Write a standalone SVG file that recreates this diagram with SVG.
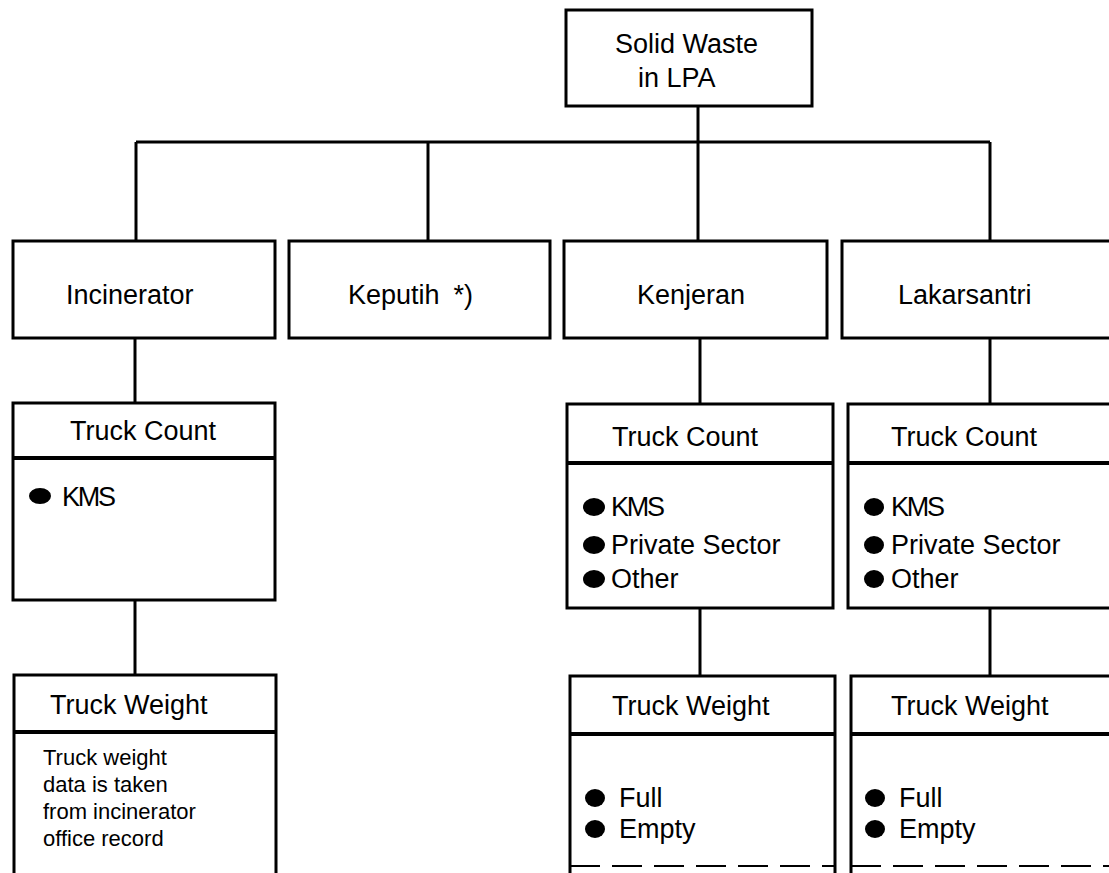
<svg xmlns="http://www.w3.org/2000/svg" width="1109" height="873" viewBox="0 0 1109 873">
<style>
.box{fill:#fff;stroke:#000;stroke-width:3}
.div{stroke:#000;stroke-width:4}
.con{stroke:#000;stroke-width:3;fill:none}
.t{font-family:"Liberation Sans",Arial,sans-serif;font-size:27px;fill:#000}
.s{font-family:"Liberation Sans",Arial,sans-serif;font-size:22px;fill:#000}
.b{fill:#000}
.dash{stroke:#000;stroke-width:2;stroke-dasharray:30 12}
</style>
<g id="connectors">
<line class="con" x1="698" y1="106" x2="698" y2="241"/>
<line class="con" x1="136" y1="142" x2="990" y2="142"/>
<line class="con" x1="136" y1="142" x2="136" y2="241"/>
<line class="con" x1="428" y1="142" x2="428" y2="241"/>
<line class="con" x1="990" y1="142" x2="990" y2="241"/>
<line class="con" x1="135" y1="338" x2="135" y2="403"/>
<line class="con" x1="135" y1="600" x2="135" y2="675"/>
<line class="con" x1="700" y1="338" x2="700" y2="404"/>
<line class="con" x1="700" y1="608" x2="700" y2="676"/>
<line class="con" x1="990" y1="338" x2="990" y2="404"/>
<line class="con" x1="990" y1="608" x2="990" y2="676"/>
</g>
<g id="solid-waste">
<rect class="box" x="566" y="10" width="246" height="96"/>
<text class="t" x="615" y="53">Solid Waste</text>
<text class="t" x="638" y="87">in LPA</text>
</g>
<g id="incinerator">
<rect class="box" x="13" y="241" width="262" height="97"/>
<text class="t" x="66" y="304">Incinerator</text>
</g>
<g id="keputih">
<rect class="box" x="289" y="241" width="261" height="97"/>
<text class="t" x="348" y="304">Keputih<tspan dx="14">*)</tspan></text>
</g>
<g id="kenjeran">
<rect class="box" x="564" y="241" width="263" height="97"/>
<text class="t" x="637" y="304">Kenjeran</text>
</g>
<g id="lakarsantri">
<rect class="box" x="842" y="241" width="280" height="97"/>
<text class="t" x="898" y="304">Lakarsantri</text>
</g>
<g id="inc-truck-count">
<rect class="box" x="13" y="403" width="262" height="197"/>
<line class="div" x1="13" y1="458" x2="275" y2="458"/>
<text class="t" x="70" y="440">Truck Count</text>
<ellipse class="b" cx="40" cy="496" rx="11" ry="8"/>
<text class="t" x="62" y="506" textLength="54">KMS</text>
</g>
<g id="ken-truck-count">
<rect class="box" x="567" y="404" width="266" height="204"/>
<line class="div" x1="567" y1="463" x2="833" y2="463"/>
<text class="t" x="612" y="446">Truck Count</text>
<ellipse class="b" cx="594" cy="507" rx="11" ry="9"/>
<text class="t" x="611" y="516" textLength="54">KMS</text>
<ellipse class="b" cx="594" cy="545" rx="11" ry="9"/>
<text class="t" x="611" y="554">Private Sector</text>
<ellipse class="b" cx="594" cy="579" rx="11" ry="9"/>
<text class="t" x="611" y="588">Other</text>
</g>
<g id="lak-truck-count">
<rect class="box" x="848" y="404" width="280" height="204"/>
<line class="div" x1="848" y1="463" x2="1109" y2="463"/>
<text class="t" x="891" y="446">Truck Count</text>
<ellipse class="b" cx="874" cy="507" rx="10" ry="9"/>
<text class="t" x="891" y="516" textLength="54">KMS</text>
<ellipse class="b" cx="874" cy="545" rx="10" ry="9"/>
<text class="t" x="891" y="554">Private Sector</text>
<ellipse class="b" cx="874" cy="579" rx="10" ry="9"/>
<text class="t" x="891" y="588">Other</text>
</g>
<g id="inc-truck-weight">
<path class="box" d="M14 880 V675 H276 V880"/>
<line class="div" x1="14" y1="732" x2="276" y2="732"/>
<text class="t" x="50" y="714">Truck Weight</text>
<text class="s" x="43" y="765">Truck weight</text>
<text class="s" x="43" y="792">data is taken</text>
<text class="s" x="43" y="819">from incinerator</text>
<text class="s" x="43" y="846">office record</text>
</g>
<g id="ken-truck-weight">
<path class="box" d="M570 880 V676 H835 V880"/>
<line class="div" x1="570" y1="734" x2="835" y2="734"/>
<line class="dash" x1="570" y1="866" x2="835" y2="866"/>
<text class="t" x="612" y="715">Truck Weight</text>
<ellipse class="b" cx="595" cy="798" rx="10" ry="9"/>
<text class="t" x="619" y="807">Full</text>
<ellipse class="b" cx="595" cy="829" rx="10" ry="9"/>
<text class="t" x="619" y="838">Empty</text>
</g>
<g id="lak-truck-weight">
<path class="box" d="M851 880 V676 H1120"/>
<line class="div" x1="851" y1="734" x2="1109" y2="734"/>
<line class="dash" x1="851" y1="866" x2="1109" y2="866"/>
<text class="t" x="891" y="715">Truck Weight</text>
<ellipse class="b" cx="875" cy="798" rx="10" ry="9"/>
<text class="t" x="899" y="807">Full</text>
<ellipse class="b" cx="875" cy="829" rx="10" ry="9"/>
<text class="t" x="899" y="838">Empty</text>
</g>
</svg>
